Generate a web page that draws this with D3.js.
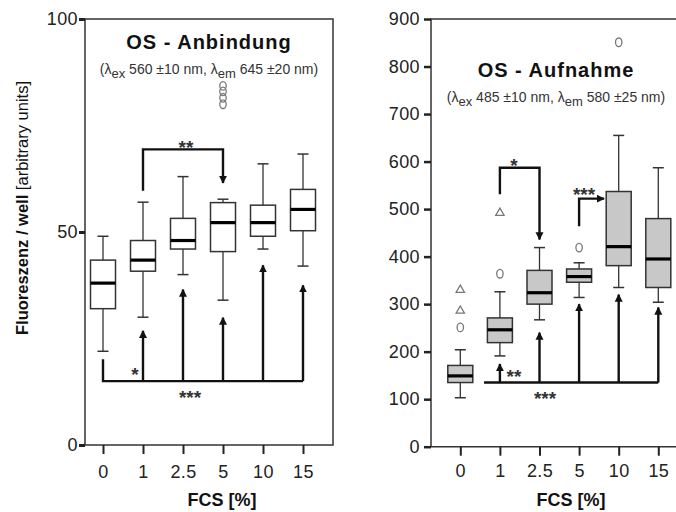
<!DOCTYPE html>
<html>
<head>
<meta charset="utf-8">
<script src="https://cdn.jsdelivr.net/npm/d3@7/dist/d3.min.js"></script>
<style>
  body { margin: 0; background: #fff; }
  svg { display: block; font-family: "Liberation Sans", Arial, sans-serif; }
</style>
</head>
<body>
<script>
(function() {
    'use strict';

    // Kategorien (FCS in %)
    var categories = ['0', '1', '2.5', '5', '10', '15'];

    // OS - Anbindung (links)
    var bindLow    = [22, 30, 40, 34, 46, 42];
    var bindQ1     = [32, 40.8, 46, 45.4, 49, 50.3];
    var bindMedian = [38, 43.4, 48, 52.2, 52.2, 55.3];
    var bindQ3     = [43.4, 48, 53.2, 56.9, 56.3, 60];
    var bindHigh   = [49, 57, 63, 57.7, 66, 68.3];
    var bindOutliers = [['5', 80], ['5', 81.5], ['5', 83], ['5', 84.3]];
    var bindArrowTips = [26.8, 36.5, 29.9, 42.2, 37.5]; // 1 .. 15
    var bindYTicks = [0, 50, 100];

    // OS - Aufnahme (rechts)
    var upLow    = [103, 191, 267, 314, 335, 304];
    var upQ1     = [135, 219, 300, 346, 381, 335];
    var upMedian = [149, 246, 324, 358, 421, 395];
    var upQ3     = [171, 271, 371, 374, 537, 480];
    var upHigh   = [204, 326, 419, 387, 655, 587];
    var upOutliers = [
        ['0', 251, 'circle'], ['0', 286, 'triangle'], ['0', 330, 'triangle'],
        ['1', 364, 'circle'], ['1', 492, 'triangle'],
        ['5', 419, 'circle'], ['10', 851, 'circle']
    ];
    var upArrowTips = [174, 240, 300, 320, 293]; // 1 .. 15
    var upYTicks = d3.range(0, 1000, 100);

    var W = 676, H = 512;

    var svg = d3.select('body').append('svg')
        .attr('width', W).attr('height', H);

    svg.append('defs').append('marker')
        .attr('id', 'head')
        .attr('markerUnits', 'userSpaceOnUse')
        .attr('viewBox', '0 0 10 10')
        .attr('refX', 9).attr('refY', 5)
        .attr('markerWidth', 8).attr('markerHeight', 10)
        .attr('orient', 'auto')
        .append('path').attr('d', 'M0,0 L10,5 L0,10 Z').attr('fill', '#111');

    function arrow(g, pts, head) {
        g.append('path')
            .attr('d', d3.line()(pts))
            .attr('fill', 'none')
            .attr('stroke', '#111')
            .attr('stroke-width', 2.4)
            .attr('marker-end', head ? 'url(#head)' : null);
    }

    // Sterne: y = Mitte des Sterns
    function star(g, x, y, s) {
        var fs = 19;
        g.append('text').attr('x', x).attr('y', y + 0.57 * fs)
            .attr('text-anchor', 'middle')
            .attr('font-size', fs).attr('font-weight', 'bold')
            .attr('fill', '#333')
            .text(s);
    }

    function boxes(g, x, y, lo, q1, med, q3, hi, fill) {
        var bw = 25, cw = 11;
        categories.forEach(function(c, i) {
            var cx = x(c);
            g.append('line').attr('x1', cx).attr('x2', cx)
                .attr('y1', y(hi[i])).attr('y2', y(lo[i]))
                .attr('stroke', '#333').attr('stroke-width', 1.3);
            [lo[i], hi[i]].forEach(function(v) {
                g.append('line').attr('x1', cx - cw / 2).attr('x2', cx + cw / 2)
                    .attr('y1', y(v)).attr('y2', y(v))
                    .attr('stroke', '#333').attr('stroke-width', 1.5);
            });
            g.append('rect')
                .attr('x', cx - bw / 2).attr('width', bw)
                .attr('y', y(q3[i])).attr('height', y(q1[i]) - y(q3[i]))
                .attr('fill', fill).attr('stroke', '#333').attr('stroke-width', 1.5);
            g.append('line').attr('x1', cx - bw / 2).attr('x2', cx + bw / 2)
                .attr('y1', y(med[i])).attr('y2', y(med[i]))
                .attr('stroke', '#000').attr('stroke-width', 3.2);
        });
    }

    function outlier(g, cx, cy, kind) {
        if (kind === 'triangle') {
            g.append('path')
                .attr('d', d3.symbol().type(d3.symbolTriangle).size(30)())
                .attr('transform', 'translate(' + cx + ',' + cy + ')')
                .attr('fill', 'none').attr('stroke', '#777').attr('stroke-width', 1.3);
        } else {
            g.append('ellipse').attr('cx', cx).attr('cy', cy)
                .attr('rx', 3.2).attr('ry', 4.3)
                .attr('fill', 'none').attr('stroke', '#777').attr('stroke-width', 1.3);
        }
    }

    function title(g, x, y, main, ex, em) {
        g.append('text').attr('x', x).attr('y', y)
            .attr('text-anchor', 'middle')
            .attr('font-size', 20).attr('font-weight', 'bold')
            .attr('letter-spacing', 1).attr('fill', '#111')
            .text(main);
        var t = g.append('text').attr('x', x).attr('y', y + 25)
            .attr('text-anchor', 'middle')
            .attr('font-size', 14).attr('fill', '#333');
        t.append('tspan').text('(λ');
        t.append('tspan').attr('dy', 4).attr('font-size', 13).text('ex');
        t.append('tspan').attr('dy', -4).text(' ' + ex + ', λ');
        t.append('tspan').attr('dy', 4).attr('font-size', 13).text('em');
        t.append('tspan').attr('dy', -4).text(' ' + em + ')');
    }

    function styleAxis(a, w) {
        a.select('.domain').remove();
        a.selectAll('.tick line').attr('stroke', '#222').attr('stroke-width', w);
        a.selectAll('.tick text')
            .attr('font-size', 18).attr('letter-spacing', 0.4)
            .attr('fill', '#222').attr('font-family', '"Liberation Sans", Arial, sans-serif');
    }

    // ---------- links: OS - Anbindung ----------
    var yL = d3.scaleLinear().domain([0, 100]).range([445, 19]);
    var xL = d3.scalePoint().domain(categories).range([103, 303]);
    var gL = svg.append('g');

    gL.append('rect').attr('x', 85).attr('y', 19)
        .attr('width', 248).attr('height', 426)
        .attr('fill', 'none').attr('stroke', '#333').attr('stroke-width', 1.5);

    var ayL = gL.append('g').attr('transform', 'translate(85,0)')
        .call(d3.axisLeft(yL).tickValues(bindYTicks).tickSize(6).tickPadding(1));
    styleAxis(ayL, 3);
    var axL = gL.append('g').attr('transform', 'translate(0,445)')
        .call(d3.axisBottom(xL).tickSize(9).tickPadding(11));
    styleAxis(axL, 2);

    boxes(gL, xL, yL, bindLow, bindQ1, bindMedian, bindQ3, bindHigh, '#fff');
    bindOutliers.forEach(function(o) { outlier(gL, xL(o[0]), yL(o[1]), 'circle'); });

    title(gL, 209, 49, 'OS - Anbindung', '560 ±10 nm', '645 ±20 nm');

    // Signifikanz links
    arrow(gL, [[xL('1'), yL(59.7)], [xL('1'), yL(69.4)], [xL('5'), yL(69.4)], [xL('5'), yL(61.5)]], true);
    star(gL, 186, yL(69.4) - 6, '**');
    arrow(gL, [[xL('0'), yL(20.1)], [xL('0'), yL(15)], [xL('15'), yL(15)]], false);
    categories.slice(1).forEach(function(c, i) {
        arrow(gL, [[xL(c), yL(15)], [xL(c), yL(bindArrowTips[i])]], true);
    });
    star(gL, xL('1') - 8, yL(15) - 11, '*');
    star(gL, xL('2.5') + 7, yL(15) + 12, '***');

    gL.append('text')
        .attr('transform', 'translate(28,208) rotate(-90)')
        .attr('text-anchor', 'middle')
        .attr('font-size', 16.5).attr('fill', '#111')
        .call(function(t) {
            t.append('tspan').attr('font-weight', 'bold').text('Fluoreszenz / well ');
            t.append('tspan').text('[arbitrary units]');
        });
    gL.append('text').attr('x', 222).attr('y', 506)
        .attr('text-anchor', 'middle')
        .attr('font-size', 18).attr('font-weight', 'bold')
        .attr('fill', '#111').text('FCS [%]');

    // ---------- rechts: OS - Aufnahme ----------
    var yR = d3.scaleLinear().domain([0, 900]).range([446.7, 19]);
    var xR = d3.scalePoint().domain(categories).range([460.3, 658.3]);
    var gR = svg.append('g');

    gR.append('path')
        .attr('d', 'M' + W + ',19 H431 V446.7 H' + W)
        .attr('fill', 'none').attr('stroke', '#333').attr('stroke-width', 1.5);

    var ayR = gR.append('g').attr('transform', 'translate(431,0)')
        .call(d3.axisLeft(yR).tickValues(upYTicks).tickSize(7).tickPadding(4));
    styleAxis(ayR, 2.5);
    var axR = gR.append('g').attr('transform', 'translate(0,446.7)')
        .call(d3.axisBottom(xR).tickSize(9).tickPadding(9));
    styleAxis(axR, 2);

    boxes(gR, xR, yR, upLow, upQ1, upMedian, upQ3, upHigh, '#c8c8c8');
    upOutliers.forEach(function(o) { outlier(gR, xR(o[0]), yR(o[1]), o[2]); });

    title(gR, 556, 77, 'OS - Aufnahme', '485 ±10 nm', '580 ±25 nm');

    // Signifikanz rechts
    arrow(gR, [[xR('1'), yR(531)], [xR('1'), yR(587)], [xR('2.5'), yR(587)], [xR('2.5'), yR(436)]], true);
    star(gR, 514, yR(587) - 7, '*');
    arrow(gR, [[xR('5'), yR(464)], [xR('5'), yR(522)], [xR('5') + 25, yR(522)]], true);
    star(gR, 584, yR(522) - 8, '***');
    var baseStart = xR('0') + 0.6 * (xR('1') - xR('0'));
    arrow(gR, [[baseStart, yR(135)], [xR('15'), yR(135)]], false);
    categories.slice(1).forEach(function(c, i) {
        arrow(gR, [[xR(c), yR(135)], [xR(c), yR(upArrowTips[i])]], true);
    });
    star(gR, 514, yR(135) - 10, '**');
    star(gR, 545, yR(135) + 12, '***');

    gR.append('text').attr('x', 571).attr('y', 506)
        .attr('text-anchor', 'middle')
        .attr('font-size', 18).attr('font-weight', 'bold')
        .attr('fill', '#111').text('FCS [%]');
})();
</script>
</body>
</html>
